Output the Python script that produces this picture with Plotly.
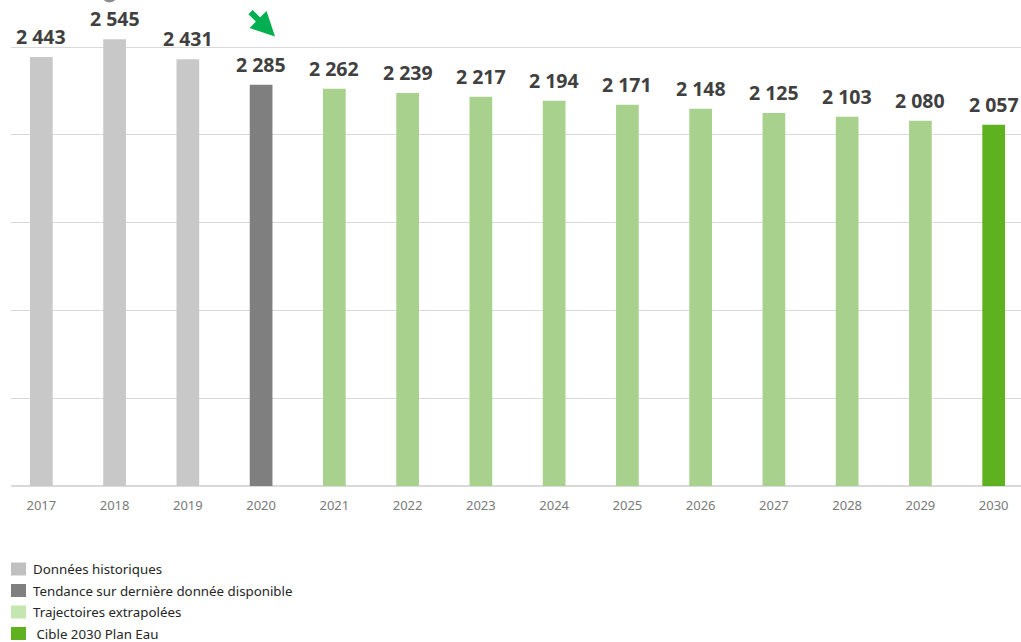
import plotly.graph_objects as go

years = ['2017', '2018', '2019', '2020', '2021', '2022', '2023', '2024',
         '2025', '2026', '2027', '2028', '2029', '2030']
values = [2443, 2545, 2431, 2285, 2262, 2239, 2217, 2194, 2171, 2148,
          2125, 2103, 2080, 2057]
groups = ['hist', 'hist', 'hist', 'trend', 'traj', 'traj', 'traj', 'traj',
          'traj', 'traj', 'traj', 'traj', 'traj', 'target']

group_colors = {'hist': '#C8C8C8', 'trend': '#7F7F7F',
                'traj': '#A9D18E', 'target': '#5EB11F'}

legend_labels = ['Données historiques', 'Tendance sur dernière donnée disponible',
                 'Trajectoires extrapolées', ' Cible 2030 Plan Eau']
legend_colors = ['#C0C0C0', '#7F7F7F', '#C5E6B0', '#5EB11F']

W, H = 1021, 642
ML, MR, MT, MB = 11, 0, 0, 156
PW, PH = W - ML - MR, H - MT - MB


def px_x(px):
    return (px - ML) / PW


def px_y(py):
    return (MT + PH - py) / PH


fig = go.Figure()
fig.add_trace(go.Bar(
    x=years, y=values,
    marker=dict(color=[group_colors[g] for g in groups], line=dict(width=0)),
    width=0.31, showlegend=False, hoverinfo='skip'))

annotations = []
for i, v in enumerate(values):
    annotations.append(dict(
        x=i, y=v, xref='x', yref='y', text=f"{v:,}".replace(',', ' '),
        showarrow=False, yanchor='bottom', yshift=5,
        font=dict(family='Open Sans', size=19.5, color='#404040', weight='bold')))

# green trend arrow above 2020
annotations.append(dict(
    x=3.19, y=2560, xref='x', yref='y', text='', showarrow=True,
    ax=-26, ay=-26, arrowhead=2, arrowsize=0.8, arrowwidth=6,
    arrowcolor='#00B050'))

shapes = []
for i, (lab, col) in enumerate(zip(legend_labels, legend_colors)):
    cy = 569 + i * 21.5
    shapes.append(dict(type='rect', xref='paper', yref='paper',
                       x0=px_x(11), x1=px_x(26), y0=px_y(cy - 6.5), y1=px_y(cy + 6.5),
                       fillcolor=col, line=dict(width=0)))
    annotations.append(dict(
        x=px_x(31), y=px_y(cy), xref='paper', yref='paper', text=lab,
        showarrow=False, xanchor='left', yanchor='middle',
        font=dict(family='Noto Sans', size=13.3, color='#262626')))

# partial grey circle cut at the top edge
shapes.append(dict(type='circle', xref='paper', yref='paper',
                   x0=px_x(101), x1=px_x(118), y0=px_y(2.5), y1=px_y(-15),
                   fillcolor='#8C8C8C', line=dict(width=0)))

fig.update_layout(
    width=W, height=H,
    margin=dict(l=ML, r=MR, t=MT, b=MB, pad=0),
    paper_bgcolor='white', plot_bgcolor='white',
    xaxis=dict(type='category', range=[-0.414, 13.373], showgrid=False,
               showline=False, zeroline=False, ticks='outside', ticklen=7,
               tickcolor='rgba(0,0,0,0)',
               tickfont=dict(family='Noto Sans', size=13, color='#7A7A7A')),
    yaxis=dict(range=[0, 2768], dtick=500, showticklabels=False,
               gridcolor='#D9D9D9', gridwidth=1, zeroline=True,
               zerolinecolor='#D9D9D9', zerolinewidth=1.5, showline=False),
    annotations=annotations, shapes=shapes,
)

fig.write_html('out.html', config={'displayModeBar': False},
               post_script="document.body.style.margin='0px';document.body.style.overflow='hidden';")
